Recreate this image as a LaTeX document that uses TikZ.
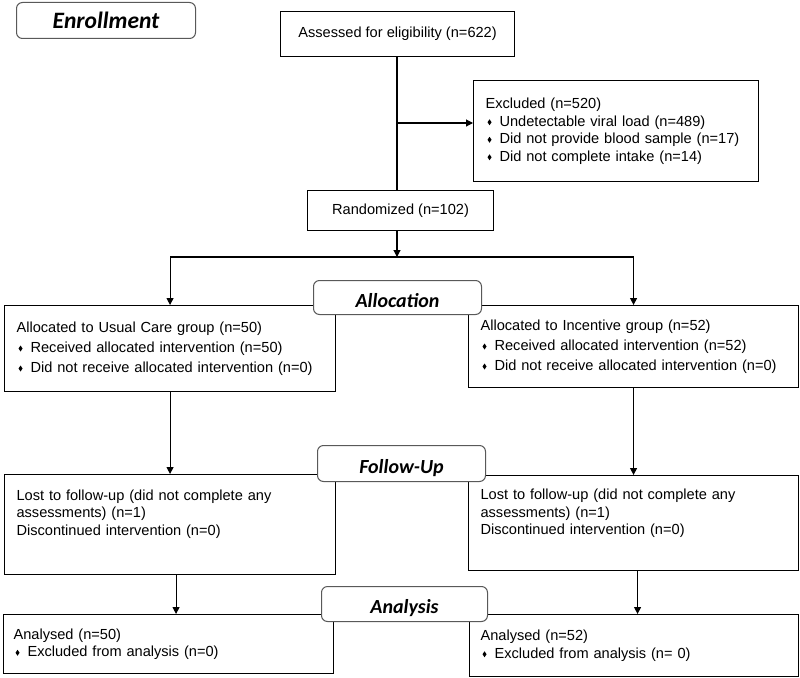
\documentclass[tikz,border=0pt]{standalone}
\usepackage{fontspec}
\setmainfont{Liberation Sans}
\newfontfamily\calfont{Carlito}
\usepackage{tikz}
\usetikzlibrary{arrows.meta}

\newcommand{\txt}{\fontsize{14.6}{17.5}\selectfont}
\newcommand{\dia}{\hspace{2pt}\tikz[baseline=-3.8pt]\fill (0pt,0pt) -- (2pt,3pt) -- (4pt,0pt) -- (2pt,-3pt) -- cycle;\hspace{8pt}}

\begin{document}
\begin{tikzpicture}[x=1pt, y=-1pt,
    flowbox/.style={draw, line width=1.1pt, fill=white, anchor=north west,
      inner xsep=12pt, inner ysep=4pt, font=\txt},
    stage/.style={draw=gray!70!black, line width=1pt, rounded corners=6pt,
      fill=white, anchor=north west, text height=19pt, text depth=0pt,
      font=\calfont\bfseries\itshape\fontsize{20}{24}\selectfont},
    arr/.style={line width=1.1pt, -{Triangle[length=7pt,width=7pt]}}]
    \useasboundingbox (0,0) rectangle (800,677);

    %% enrollment
    \node[flowbox, minimum width=234pt, minimum height=45pt, align=center]
      (assess) at (280,11) {Assessed for eligibility (n=622)};
    \node[flowbox, minimum width=285pt, minimum height=101pt, text width=261pt, align=left]
      (excl) at (473,80) {Excluded (n=520)\\ \dia Undetectable viral load (n=489)\\
      \dia Did not provide blood sample (n=17)\\ \dia Did not complete intake (n=14)};
    \node[flowbox, minimum width=186pt, minimum height=40pt, align=center]
      (rand) at (307,190) {Randomized (n=102)};

    %% allocation
    \node[flowbox, minimum width=331pt, minimum height=86pt, text width=307pt, align=left]
      (usual) at (4,305) {Allocated to Usual Care group (n=50)\\[2.5pt]
      \dia Received allocated intervention (n=50)\\[2.5pt]
      \dia Did not receive allocated intervention (n=0)};
    \node[flowbox, minimum width=330pt, minimum height=82pt, text width=306pt, align=left]
      (incent) at (468,305) {Allocated to Incentive group (n=52)\\[2.5pt]
      \dia Received allocated intervention (n=52)\\[2.5pt]
      \dia Did not receive allocated intervention (n=0)};

    %% follow-up
    \node[flowbox, minimum width=331pt, minimum height=100pt, text width=307pt, align=left]
      (lost1) at (4,474) {Lost to follow-up (did not complete any\\ assessments) (n=1)\\
      Discontinued intervention (n=0)\rule[-24pt]{0pt}{24pt}};
    \node[flowbox, minimum width=330pt, minimum height=95pt, text width=306pt, align=left]
      (lost2) at (468,475) {Lost to follow-up (did not complete any\\ assessments) (n=1)\\
      Discontinued intervention (n=0)\rule[-22pt]{0pt}{22pt}};

    %% analysis
    \node[flowbox, inner xsep=10pt, minimum width=330pt, minimum height=59pt, text width=310pt, align=left]
      (an1) at (3,614) {Analysed (n=50)\\ \dia Excluded from analysis (n=0)};
    \node[flowbox, inner xsep=11pt, minimum width=329pt, minimum height=62pt, text width=307pt, align=left]
      (an2) at (469,614) {Analysed (n=52)\\ \dia Excluded from analysis (n= 0)};

    %% connectors
    \coordinate (exj) at (397,123);
    \coordinate (split) at (397,257);
    \draw[line width=1.1pt] (exj |- assess.south) -- (exj |- rand.north);
    \draw[arr] (exj) -- (excl.west |- exj);
    \draw[arr] (split |- rand.south) -- (split);
    \draw[line width=1.1pt] (usual.north |- split) -- (incent.north |- split);
    \draw[arr] (usual.north |- split) -- (usual.north);
    \draw[arr] (incent.north |- split) -- (incent.north);
    \draw[arr] (usual.south) -- (usual.south |- lost1.north);
    \draw[arr] (incent.south) -- (incent.south |- lost2.north);
    \draw[arr] ([xshift=6pt]lost1.south) -- ([xshift=6pt]lost1.south |- an1.north);
    \draw[arr] ([xshift=4pt]lost2.south) -- ([xshift=4pt]lost2.south |- an2.north);

    %% stage labels
    \node[stage, minimum width=179pt, minimum height=36pt, text height=17pt,
      font=\calfont\bfseries\itshape\fontsize{23.5}{28}\selectfont] (enroll) at (16,2) {Enrollment};
    \node[stage, minimum width=168pt, minimum height=34pt] (alloc) at (313,280) {Allocation};
    \node[stage, minimum width=168pt, minimum height=36pt] (follow) at (317,445) {Follow-Up};
    \node[stage, minimum width=166pt, minimum height=35pt] (analys) at (321,586) {Analysis};
\end{tikzpicture}
\end{document}
